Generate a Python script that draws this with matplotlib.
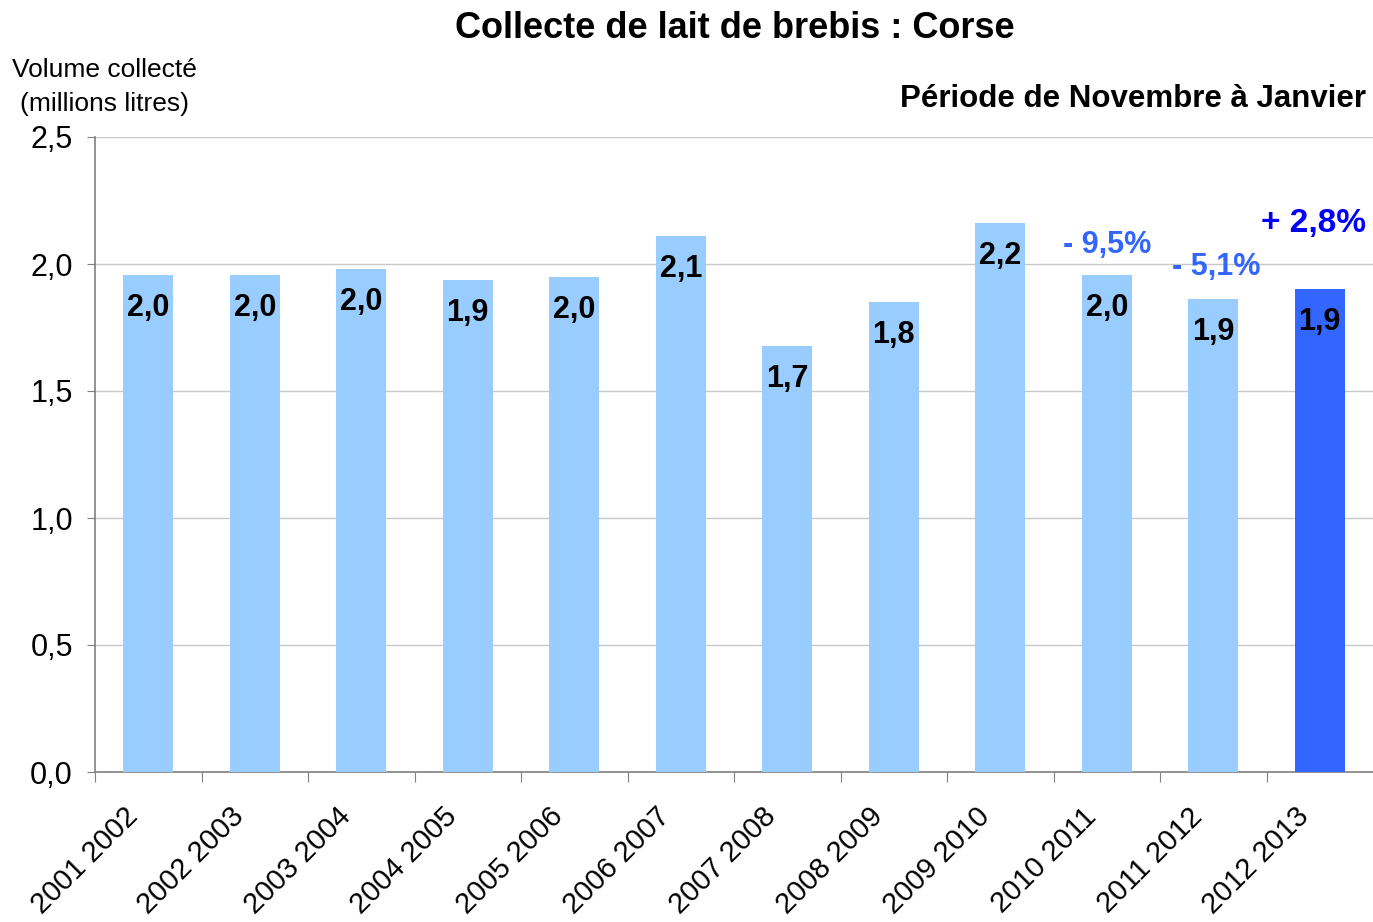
import matplotlib
matplotlib.use("Agg")
import matplotlib.pyplot as plt
import numpy as np

plt.rcParams['font.family'] = ['Liberation Sans', 'DejaVu Sans']

categories = ["2001 2002", "2002 2003", "2003 2004", "2004 2005", "2005 2006",
              "2006 2007", "2007 2008", "2008 2009", "2009 2010", "2010 2011",
              "2011 2012", "2012 2013"]
values = [1.957, 1.957, 1.98, 1.937, 1.949, 2.11, 1.677, 1.85, 2.161, 1.957, 1.862, 1.90]
labels = ["2,0", "2,0", "2,0", "1,9", "2,0", "2,1", "1,7", "1,8", "2,2", "2,0", "1,9", "1,9"]
yticks = [0.0, 0.5, 1.0, 1.5, 2.0, 2.5]
ytick_labels = ["0,0", "0,5", "1,0", "1,5", "2,0", "2,5"]
changes = {9: "- 9,5%", 10: "- 5,1%", 11: "+ 2,8%"}

light = "#99CCFF"
dark = "#3366FF"
colors = [light] * (len(values) - 1) + [dark]

fig = plt.figure(figsize=(13.73, 9.22), dpi=100)
ax = fig.add_axes([95/1373, 1 - 772/922, 1 - 95/1373, (772 - 137)/922])

x = np.arange(len(categories))
ax.bar(x, values, width=0.47, color=colors, zorder=3)
ax.set_xlim(-0.5, len(categories) - 0.5)
ax.set_ylim(0, 2.5)

ax.set_yticks(yticks)
ax.set_yticklabels(ytick_labels, fontsize=22)
ax.yaxis.grid(True, color="#C8C8C8", linewidth=1, zorder=0)
ax.tick_params(axis='y', length=6, color="#808080", pad=10)

ax.set_xticks(np.arange(len(categories)) - 0.5)
ax.set_xticklabels([])
ax.tick_params(axis='x', length=7, color="#808080", direction='out')
for i, c in enumerate(categories):
    ax.annotate(c, xy=(i, 0), xycoords=('data', 'data'), xytext=(-18, -22),
                textcoords='offset points', rotation=45, ha='right', va='top',
                rotation_mode='anchor', fontsize=21)

for s in ['top', 'right']:
    ax.spines[s].set_visible(False)
for s in ['left', 'bottom']:
    ax.spines[s].set_color("#808080")
    ax.spines[s].set_linewidth(1.2)

for i, (v, l) in enumerate(zip(values, labels)):
    ax.annotate(l, xy=(i, v), xytext=(0, -23.5), textcoords='offset points',
                ha='center', va='center', fontsize=22, fontweight='bold',
                color='black', zorder=4)

ch_pos = {9: (0.0, 2.075, "#3366FF", 22), 10: (0.03, 1.99, "#3366FF", 22),
          11: (-0.06, 2.16, "#0000FF", 24)}
for i, t in changes.items():
    dx, y, col, fs = ch_pos[i]
    ax.text(i + dx, y, t, ha='center', va='center', fontsize=fs,
            fontweight='bold', color=col)

fig.text(735/1373, 1 - 29/922, "Collecte de lait de brebis : Corse",
         ha='center', va='center', fontsize=26, fontweight='bold')
fig.text(1366/1373, 1 - 99/922, "Période de Novembre à Janvier",
         ha='right', va='center', fontsize=22.5, fontweight='bold')
fig.text(104/1373, 1 - 87/922, "Volume collecté\n(millions litres)",
         ha='center', va='center', fontsize=19, linespacing=1.5)

fig.savefig("out.png", dpi=100)
